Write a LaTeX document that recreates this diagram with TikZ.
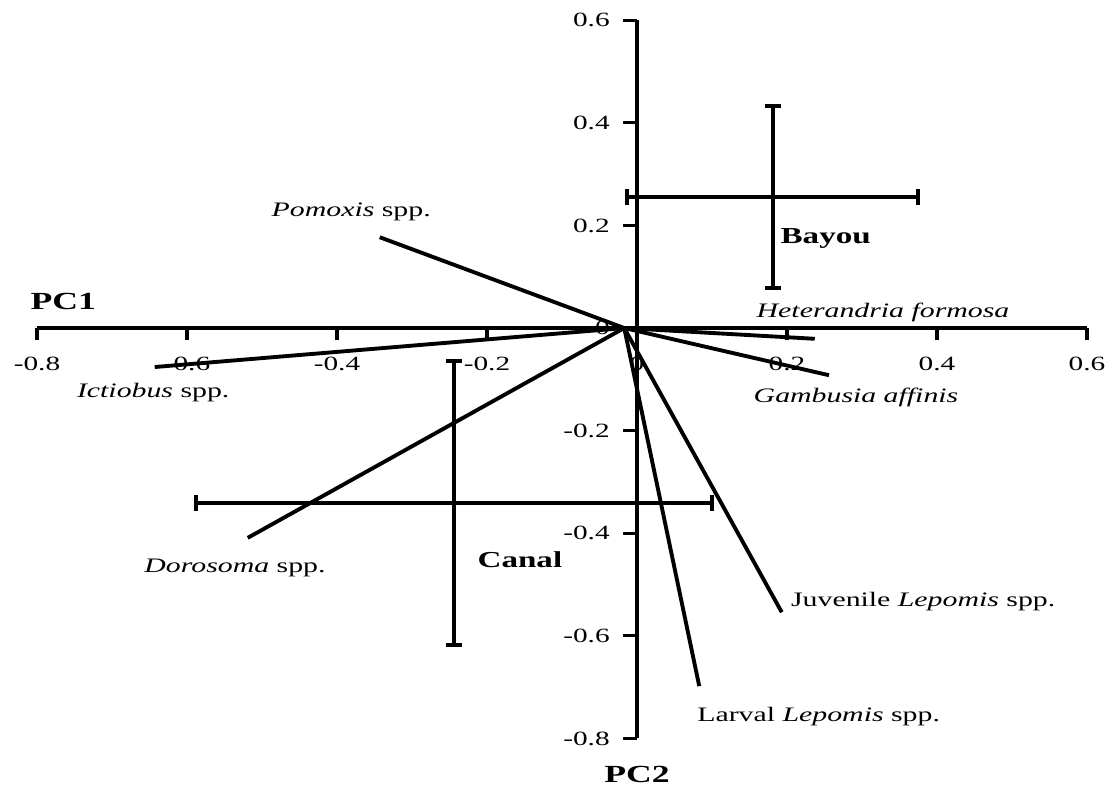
\documentclass[tikz,border=0pt]{standalone}
\usepackage{fontspec}
\setmainfont{Liberation Serif}[FakeStretch=1.45]
\usepackage{tikz}
\usetikzlibrary{arrows.meta}

\tikzset{
  axis/.style={line width=1.8pt},
  vec/.style={line width=2.2pt},
  errbar/.style={line width=2.2pt,{Bar[width=9pt]}-{Bar[width=9pt]}},
  ticklab/.style={font=\fontsize{11.5}{13}\selectfont,inner sep=0pt},
  sp/.style={font=\fontsize{11.7}{14}\selectfont,inner sep=0pt},
  grp/.style={font=\fontsize{13}{15}\selectfont\bfseries,inner sep=0pt},
  pc/.style={font=\fontsize{14}{16}\selectfont\bfseries,inner sep=0pt}
}

\begin{document}
\begin{tikzpicture}[x=15cm,y=10.26cm]
  \useasboundingbox (-0.8493,-0.9025) rectangle (0.6333,0.6394);

  % axes
  \coordinate (xl) at (-0.8,0);
  \coordinate (xr) at (0.6,0);
  \coordinate (yt) at (0,0.6);
  \coordinate (yb) at (0,-0.8);
  \draw[axis] (xl) -- (xr);
  \draw[axis] (yt) -- (yb);
  \foreach \v/\lab [count=\i] in {-0.8/-0.8,-0.6/-0.6,-0.4/-0.4,-0.2/-0.2,0/0,0.2/0.2,0.4/0.4,0.6/0.6}{
    \draw[axis] (\v,0) -- ++(0,-7pt);
    \node[ticklab] (xlab\i) at (\v,-0.070) {\lab};
    \draw[axis] (0,\v) -- ++(-8pt,0);
    \node[ticklab,anchor=east] (ylab\i) at (-0.036,\v) {\lab};
  }
  \node[pc] (pc1) at (-0.765,0.051) {PC1};
  \node[pc] (pc2) at (0,-0.871) {PC2};

  % species vectors
  \coordinate (O) at (-0.017,0);
  \coordinate (pom) at (-0.343,0.177);
  \coordinate (ict) at (-0.643,-0.076);
  \coordinate (dor) at (-0.519,-0.409);
  \coordinate (het) at (0.237,-0.021);
  \coordinate (gam) at (0.256,-0.092);
  \coordinate (juv) at (0.193,-0.554);
  \coordinate (lar) at (0.083,-0.698);
  \foreach \e in {pom,ict,dor,het,gam,juv,lar}
    \draw[vec] (O) -- (\e);

  \begin{scope}[every node/.style={sp}]
    \node (pomlab) at (-0.381,0.226) {\textit{Pomoxis} spp.};
    \node (ictlab) at (-0.645,-0.125) {\textit{Ictiobus} spp.};
    \node (dorlab) at (-0.536,-0.468) {\textit{Dorosoma} spp.};
    \node (hetlab) at (0.328,0.031) {\textit{Heterandria formosa}};
    \node (gamlab) at (0.292,-0.136) {\textit{Gambusia affinis}};
    \node[anchor=west] (juvlab) at (0.205,-0.534) {Juvenile \textit{Lepomis} spp.};
    \node[anchor=west] (larlab) at (0.080,-0.758) {Larval \textit{Lepomis} spp.};
  \end{scope}

  % group means with error bars
  \coordinate (bayL) at (-0.016,0.255);
  \coordinate (bayR) at (0.377,0.255);
  \coordinate (bayT) at (0.181,0.437);
  \coordinate (bayB) at (0.181,0.074);
  \coordinate (canL) at (-0.591,-0.341);
  \coordinate (canR) at (0.103,-0.341);
  \coordinate (canT) at (-0.244,-0.060);
  \coordinate (canB) at (-0.244,-0.622);
  \draw[errbar] (bayL) -- (bayR);
  \draw[errbar] (bayT) -- (bayB);
  \draw[errbar] (canL) -- (canR);
  \draw[errbar] (canT) -- (canB);
  \node[grp,anchor=west] (bayou) at (0.191,0.175) {Bayou};
  \node[grp,anchor=west] (canal) at (-0.213,-0.452) {Canal};
\end{tikzpicture}
\end{document}
